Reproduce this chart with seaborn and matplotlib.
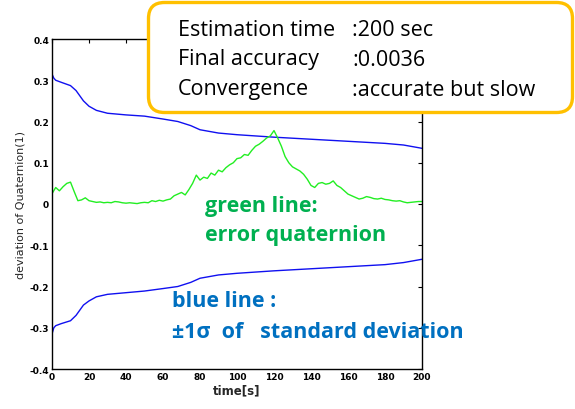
import numpy as np
import pandas as pd
import matplotlib
matplotlib.use("Agg")
import matplotlib.pyplot as plt
from matplotlib.patches import FancyBboxPatch
import seaborn as sns

# standard deviation bounds (+1 sigma / -1 sigma)
sigma_time = [0, 1, 2, 5, 10, 13, 17, 20, 24, 30, 40, 50, 60, 68, 75, 80,
              90, 100, 110, 120, 140, 160, 180, 190, 200]
sigma_upper = [0.315, 0.305, 0.300, 0.295, 0.287, 0.275, 0.250, 0.237, 0.227,
               0.220, 0.216, 0.213, 0.206, 0.200, 0.190, 0.180, 0.172, 0.168,
               0.165, 0.162, 0.157, 0.152, 0.147, 0.143, 0.135]
sigma_lower = [-0.315, -0.300, -0.295, -0.290, -0.283, -0.270, -0.245, -0.235,
               -0.225, -0.219, -0.215, -0.211, -0.205, -0.200, -0.190, -0.180,
               -0.172, -0.168, -0.165, -0.162, -0.157, -0.152, -0.147, -0.142,
               -0.134]

# error quaternion, sampled every 2 s
error_time = list(range(0, 201, 2))
error_q = [0.025, 0.040, 0.032, 0.042, 0.050, 0.053, 0.030, 0.008, 0.010, 0.015,
           0.008, 0.006, 0.004, 0.005, 0.003, 0.004, 0.003, 0.006, 0.005, 0.003,
           0.002, 0.003, 0.002, 0.001, 0.003, 0.004, 0.003, 0.008, 0.006, 0.009,
           0.007, 0.010, 0.012, 0.020, 0.024, 0.028, 0.022, 0.035, 0.050, 0.070,
           0.058, 0.065, 0.062, 0.075, 0.070, 0.082, 0.078, 0.088, 0.095, 0.100,
           0.110, 0.112, 0.120, 0.118, 0.130, 0.140, 0.145, 0.152, 0.160, 0.165,
           0.178, 0.160, 0.140, 0.115, 0.100, 0.090, 0.085, 0.080, 0.072, 0.060,
           0.045, 0.040, 0.050, 0.052, 0.048, 0.050, 0.056, 0.045, 0.040, 0.032,
           0.024, 0.020, 0.016, 0.012, 0.014, 0.018, 0.016, 0.013, 0.012, 0.014,
           0.011, 0.010, 0.008, 0.007, 0.008, 0.005, 0.003, 0.004, 0.005, 0.006,
           0.006]

summary_keys = ["Estimation time", "Final accuracy", "Convergence"]
summary_vals = [":200 sec", ":0.0036", ":accurate but slow"]

x_ticks = list(range(0, 201, 20))
y_ticks = [-0.4, -0.3, -0.2, -0.1, 0, 0.1, 0.2, 0.3, 0.4]
y_tick_labels = ["-0.4", "-0.3", "-0.2", "-0.1", "0", "0.1", "0.2", "0.3", "0.4"]

sns.set_theme(style="white")
plt.rcParams["font.family"] = ["DejaVu Sans"]

sigma_df = pd.DataFrame({"t": sigma_time, "upper": sigma_upper, "lower": sigma_lower})
error_df = pd.DataFrame({"t": error_time, "err": error_q})

fig = plt.figure(figsize=(5.75, 4.10), dpi=100)
ax = fig.add_axes([52 / 575, 1 - 370 / 410, 370 / 575, 330 / 410])

sns.lineplot(data=sigma_df, x="t", y="upper", color="#1010f0", lw=1.0, ax=ax)
sns.lineplot(data=sigma_df, x="t", y="lower", color="#1010f0", lw=1.0, ax=ax)
sns.lineplot(data=error_df, x="t", y="err", color="#22ee22", lw=1.0, ax=ax)

ax.set_xlim(0, 200)
ax.set_ylim(-0.4, 0.4)
ax.set_xticks(x_ticks)
ax.set_xticklabels([str(v) for v in x_ticks], fontsize=6.5, fontweight="bold")
ax.set_yticks(y_ticks)
ax.set_yticklabels(y_tick_labels, fontsize=6.5, fontweight="bold")
ax.tick_params(direction="in", length=3, width=0.8, top=True, right=True,
               pad=2, colors="black")
for s in ax.spines.values():
    s.set_color("black")
    s.set_linewidth(1.0)
ax.set_xlabel("time[s]", fontsize=8.5, fontweight="bold", labelpad=2)
ax.set_ylabel("deviation of Quaternion(1)", fontsize=8, labelpad=3)

# annotations inside the plot
note_kw = dict(transform=fig.transFigure, fontsize=15.5, fontweight="bold",
               family="Open Sans", va="center")
ax.text(205 / 575, 1 - 207 / 410, "green line:", color="#00b050", **note_kw)
ax.text(205 / 575, 1 - 236 / 410, "error quaternion", color="#00b050", **note_kw)
ax.text(172 / 575, 1 - 302 / 410, "blue line :", color="#0070c0", **note_kw)
ax.text(172 / 575, 1 - 332 / 410, "\u00b11\u03c3  of   standard deviation",
        color="#0070c0", **note_kw)

# summary box
box = FancyBboxPatch((1.485, 2.965), 4.24, 1.10,
                     boxstyle="round,pad=0,rounding_size=0.16",
                     transform=fig.dpi_scale_trans, facecolor="white",
                     edgecolor="#ffc000", linewidth=2.4, zorder=10)
fig.patches.append(box)
line_y = [30, 60, 90]
for k, v, yp in zip(summary_keys, summary_vals, line_y):
    fig.text(178 / 575, 1 - yp / 410, k, fontsize=15.5, family="Open Sans",
             color="black", va="center", zorder=11)
    fig.text(352 / 575, 1 - yp / 410, v, fontsize=15.5, family="Open Sans",
             color="black", va="center", zorder=11)

fig.savefig("out.png", dpi=100, facecolor="white")
